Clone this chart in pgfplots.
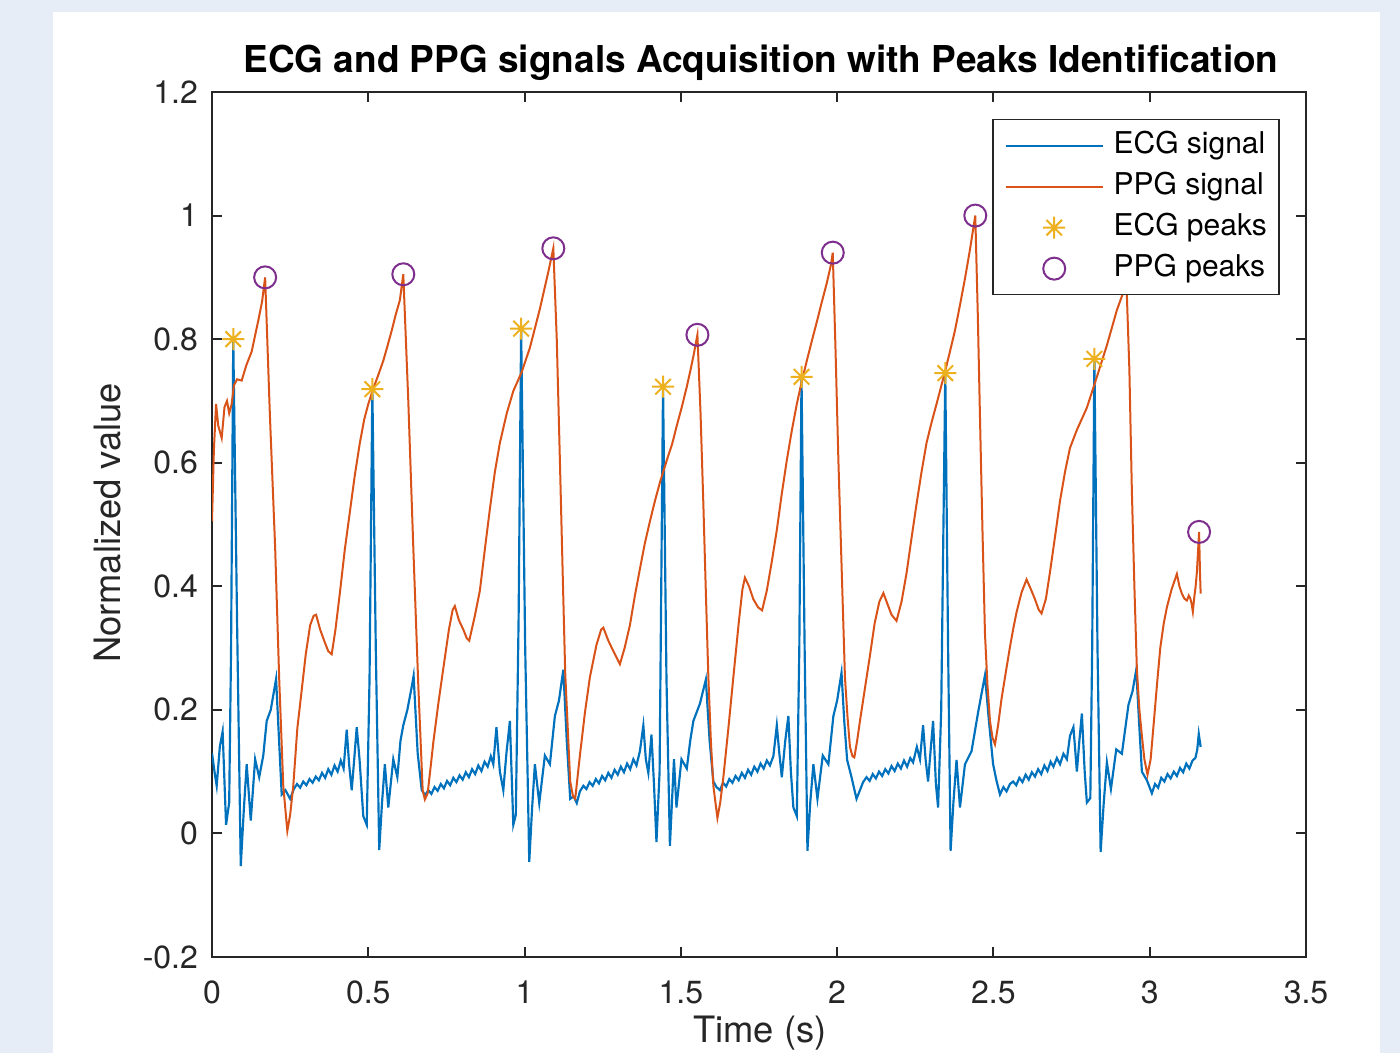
\documentclass[border=0pt]{standalone}
\usepackage{fontspec}
\setmainfont{TeX Gyre Heros}
\usepackage{pgfplots}
\pgfplotsset{compat=1.18}

\definecolor{bgblue}{RGB}{230,237,247}
\definecolor{axgray}{RGB}{38,38,38}
\definecolor{ecgblue}{RGB}{0,114,189}
\definecolor{ppgorange}{RGB}{217,83,25}
\definecolor{pkyellow}{RGB}{237,177,32}
\definecolor{pkpurple}{RGB}{126,47,142}

% matlab-like '*' marker (plus and cross)
\pgfdeclareplotmark{mstar}{%
  \pgfpathmoveto{\pgfqpoint{-\pgfplotmarksize}{0pt}}\pgfpathlineto{\pgfqpoint{\pgfplotmarksize}{0pt}}%
  \pgfpathmoveto{\pgfqpoint{0pt}{-\pgfplotmarksize}}\pgfpathlineto{\pgfqpoint{0pt}{\pgfplotmarksize}}%
  \pgfpathmoveto{\pgfqpoint{-0.707\pgfplotmarksize}{-0.707\pgfplotmarksize}}\pgfpathlineto{\pgfqpoint{0.707\pgfplotmarksize}{0.707\pgfplotmarksize}}%
  \pgfpathmoveto{\pgfqpoint{-0.707\pgfplotmarksize}{0.707\pgfplotmarksize}}\pgfpathlineto{\pgfqpoint{0.707\pgfplotmarksize}{-0.707\pgfplotmarksize}}%
  \pgfusepathqstroke}

\begin{document}
\begin{tikzpicture}[x=0.3pt,y=-0.3pt]
\useasboundingbox (0,0) rectangle (1400,1053);
\clip (0,0) rectangle (1400,1053);
\fill[bgblue] (0,0) rectangle (1400,1053);
\fill[white] (53,12) rectangle (1380,1053);
\coordinate (axsw) at (212,957);

\begin{axis}[
    at={(axsw)}, anchor=south west,
    scale only axis,
    width=328.2pt, height=259.5pt,
    xmin=0, xmax=3.5, ymin=-0.2, ymax=1.2,
    xtick={0,0.5,1,1.5,2,2.5,3,3.5},
    ytick={-0.2,0,0.2,0.4,0.6,0.8,1,1.2},
    tick align=inside,
    major tick length=3pt,
    axis line style={axgray, line width=0.6pt},
    tick style={axgray, line width=0.6pt},
    /pgf/number format/assume math mode=true,
    tick label style={font=\fontsize{9.6}{11}\selectfont, text=axgray},
    xticklabel style={anchor=base, yshift=-14.1pt},
    yticklabel style={xshift=-0.7pt},
    legend style={
        at={(0.976,0.969)}, anchor=north east,
        draw=axgray, line width=0.5pt,
        font=\fontsize{9}{10}\selectfont,
        inner xsep=3.6pt, inner ysep=3.3pt,
        row sep=3.3pt, column sep=3pt,
        nodes={inner sep=0pt, text height=7pt, text depth=2pt},
        cells={anchor=west},
    },
]
\addplot[ecgblue, line width=0.65pt, no marks,
    legend image code/.code={\draw[ecgblue, line width=0.65pt] (0pt,0pt) -- (29pt,0pt);}]
coordinates {
(0.000,0.130) (0.008,0.100) (0.015,0.077) (0.025,0.140) (0.034,0.165) (0.045,0.014)
(0.055,0.050) (0.061,0.300) (0.068,0.800) (0.080,0.350) (0.092,-0.053) (0.102,0.040)
(0.111,0.112) (0.124,0.021) (0.138,0.120) (0.151,0.091) (0.164,0.126) (0.175,0.182)
(0.188,0.200) (0.205,0.250) (0.223,0.063) (0.235,0.070) (0.250,0.056)
(0.262,0.072) (0.272,0.080) (0.282,0.074) (0.292,0.084) (0.302,0.078) (0.312,0.088)
(0.322,0.082) (0.332,0.092) (0.342,0.086) (0.352,0.098) (0.362,0.090) (0.372,0.104)
(0.382,0.095) (0.392,0.110) (0.402,0.100) (0.412,0.118) (0.421,0.105) (0.431,0.168)
(0.439,0.110) (0.447,0.070) (0.455,0.120) (0.463,0.172) (0.472,0.120) (0.484,0.028)
(0.495,0.014) (0.504,0.250) (0.513,0.719) (0.524,0.300) (0.535,-0.027) (0.544,0.050)
(0.553,0.112) (0.564,0.042) (0.580,0.120) (0.593,0.091) (0.603,0.150) (0.612,0.175)
(0.625,0.200) (0.640,0.240) (0.645,0.255) (0.658,0.130) (0.671,0.070) (0.682,0.062)
(0.692,0.070) (0.702,0.064) (0.712,0.075) (0.722,0.069) (0.732,0.080) (0.742,0.073)
(0.752,0.085) (0.762,0.078) (0.772,0.090) (0.782,0.083) (0.792,0.094) (0.802,0.087)
(0.812,0.099) (0.822,0.091) (0.832,0.104) (0.842,0.096) (0.852,0.110) (0.862,0.101)
(0.872,0.116) (0.882,0.108) (0.892,0.125) (0.900,0.112) (0.910,0.172) (0.921,0.100)
(0.932,0.070) (0.942,0.130) (0.953,0.182) (0.964,0.014) (0.972,0.030) (0.981,0.350)
(0.989,0.817) (1.002,0.300) (1.015,-0.046) (1.024,0.040) (1.033,0.112) (1.047,0.049)
(1.065,0.126) (1.081,0.112) (1.097,0.190) (1.110,0.215) (1.124,0.265) (1.135,0.150)
(1.146,0.056) (1.157,0.060) (1.167,0.049) (1.177,0.068) (1.188,0.077)
(1.198,0.072) (1.208,0.083) (1.218,0.077) (1.228,0.088) (1.238,0.081) (1.248,0.093)
(1.258,0.086) (1.268,0.098) (1.278,0.090) (1.288,0.103) (1.298,0.095) (1.308,0.108)
(1.318,0.099) (1.328,0.113) (1.338,0.104) (1.348,0.120) (1.358,0.110) (1.369,0.133)
(1.380,0.175) (1.388,0.120) (1.396,0.098) (1.406,0.160) (1.414,0.080) (1.422,-0.014)
(1.432,0.100) (1.443,0.723) (1.454,0.250) (1.465,-0.020) (1.478,0.120) (1.486,0.042)
(1.502,0.120) (1.519,0.105) (1.530,0.150) (1.540,0.182) (1.561,0.210) (1.580,0.249)
(1.592,0.150) (1.604,0.084) (1.614,0.075) (1.625,0.070)
(1.635,0.082) (1.645,0.076) (1.655,0.088) (1.665,0.082) (1.675,0.093) (1.685,0.086)
(1.695,0.098) (1.705,0.090) (1.715,0.103) (1.725,0.095) (1.735,0.108) (1.745,0.100)
(1.755,0.113) (1.765,0.105) (1.775,0.118) (1.785,0.110) (1.796,0.125) (1.807,0.175)
(1.815,0.130) (1.823,0.091) (1.834,0.150) (1.844,0.190) (1.852,0.100) (1.860,0.042)
(1.871,0.028) (1.879,0.300) (1.886,0.739) (1.896,0.300) (1.905,-0.028) (1.914,0.050)
(1.924,0.112) (1.937,0.056) (1.954,0.126) (1.972,0.112) (1.988,0.190) (2.000,0.215)
(2.014,0.260) (2.023,0.180) (2.032,0.119) (2.046,0.091) (2.062,0.056) (2.073,0.070)
(2.083,0.083) (2.094,0.091)
(2.104,0.085) (2.114,0.096) (2.124,0.089) (2.134,0.100) (2.144,0.093) (2.154,0.104)
(2.164,0.097) (2.174,0.109) (2.184,0.101) (2.194,0.113) (2.204,0.105) (2.214,0.118)
(2.224,0.108) (2.234,0.122) (2.243,0.115) (2.255,0.140) (2.265,0.120) (2.275,0.175)
(2.283,0.120) (2.291,0.084) (2.300,0.140) (2.307,0.182) (2.316,0.080) (2.323,0.042)
(2.333,0.200) (2.346,0.745) (2.355,0.300) (2.363,-0.028) (2.372,0.050) (2.382,0.119)
(2.393,0.042) (2.409,0.112) (2.430,0.133) (2.451,0.196) (2.473,0.256) (2.486,0.180)
(2.499,0.112) (2.510,0.085) (2.521,0.063) (2.532,0.075) (2.542,0.068) (2.553,0.080)
(2.563,0.084)
(2.573,0.078) (2.583,0.090) (2.593,0.083) (2.603,0.095) (2.613,0.087) (2.623,0.099)
(2.633,0.092) (2.643,0.104) (2.653,0.096) (2.663,0.110) (2.673,0.101) (2.683,0.116)
(2.692,0.108) (2.703,0.122) (2.713,0.112) (2.724,0.129) (2.735,0.120) (2.745,0.158)
(2.756,0.172) (2.767,0.100) (2.775,0.150) (2.783,0.194) (2.792,0.100) (2.799,0.050)
(2.810,0.057) (2.816,0.300) (2.823,0.768) (2.833,0.300) (2.843,-0.030) (2.853,0.050)
(2.863,0.115) (2.876,0.072) (2.893,0.136) (2.911,0.129) (2.932,0.208) (2.945,0.230)
(2.957,0.265) (2.966,0.180) (2.975,0.100) (2.991,0.086) (3.007,0.065)
(3.017,0.080) (3.027,0.074) (3.037,0.090) (3.047,0.084) (3.057,0.096) (3.067,0.089)
(3.077,0.100) (3.087,0.093) (3.097,0.106) (3.107,0.099) (3.117,0.113) (3.127,0.105)
(3.137,0.118) (3.146,0.122) (3.152,0.135) (3.157,0.161) (3.163,0.140)
};
\addlegendentry{ECG signal}

\addplot[ppgorange, line width=0.6pt, no marks,
    legend image code/.code={\draw[ppgorange, line width=0.6pt] (0pt,0pt) -- (29pt,0pt);}]
coordinates {
(0.000,0.505) (0.006,0.620) (0.013,0.695) (0.020,0.660) (0.031,0.640) (0.040,0.690)
(0.048,0.700) (0.055,0.680) (0.063,0.695) (0.070,0.725) (0.080,0.735) (0.095,0.733)
(0.110,0.758) (0.127,0.780) (0.148,0.830) (0.160,0.860) (0.170,0.900) (0.185,0.680)
(0.202,0.463) (0.215,0.250) (0.228,0.077) (0.241,0.004) (0.250,0.030) (0.260,0.077)
(0.273,0.170) (0.287,0.232) (0.300,0.290) (0.314,0.337) (0.325,0.352) (0.333,0.354)
(0.346,0.330) (0.361,0.309) (0.372,0.295) (0.383,0.290) (0.395,0.330) (0.410,0.393)
(0.425,0.460) (0.441,0.520) (0.457,0.580) (0.473,0.632) (0.487,0.670) (0.500,0.695)
(0.516,0.720) (0.532,0.742) (0.548,0.765) (0.562,0.790) (0.575,0.814) (0.588,0.840)
(0.601,0.863) (0.612,0.905) (0.628,0.700) (0.644,0.463) (0.660,0.240) (0.674,0.070)
(0.681,0.055) (0.690,0.065) (0.700,0.110) (0.708,0.147) (0.724,0.210) (0.740,0.267)
(0.758,0.330) (0.770,0.362) (0.777,0.368) (0.790,0.345) (0.804,0.330) (0.815,0.316)
(0.823,0.312) (0.840,0.350) (0.857,0.393) (0.873,0.460) (0.889,0.525) (0.905,0.585)
(0.921,0.632) (0.943,0.680) (0.964,0.716) (0.991,0.747) (1.017,0.786) (1.049,0.849)
(1.076,0.909) (1.092,0.947) (1.103,0.800) (1.113,0.604) (1.122,0.420) (1.130,0.260)
(1.146,0.084) (1.155,0.060) (1.162,0.056) (1.177,0.126) (1.193,0.195) (1.209,0.253)
(1.230,0.305) (1.245,0.330) (1.252,0.333) (1.268,0.312) (1.284,0.295) (1.305,0.274)
(1.320,0.300) (1.337,0.337) (1.353,0.385) (1.369,0.428) (1.385,0.470) (1.401,0.505)
(1.417,0.538) (1.433,0.568) (1.455,0.604) (1.472,0.630) (1.487,0.660) (1.503,0.690)
(1.519,0.723) (1.530,0.748) (1.540,0.772) (1.553,0.807) (1.563,0.680) (1.572,0.533)
(1.580,0.390) (1.588,0.253) (1.596,0.150) (1.604,0.077) (1.617,0.025) (1.626,0.050)
(1.636,0.091) (1.652,0.170) (1.668,0.253) (1.685,0.340) (1.697,0.395) (1.705,0.414)
(1.718,0.400) (1.732,0.379) (1.747,0.366) (1.760,0.361) (1.775,0.393) (1.791,0.440)
(1.807,0.491) (1.823,0.550) (1.839,0.604) (1.855,0.652) (1.871,0.695) (1.887,0.732)
(1.903,0.765) (1.919,0.797) (1.935,0.828) (1.951,0.860) (1.967,0.891) (1.980,0.920)
(1.986,0.940) (1.995,0.780) (2.004,0.604) (2.015,0.420) (2.025,0.253) (2.033,0.190)
(2.041,0.140) (2.049,0.125) (2.055,0.123) (2.064,0.150) (2.073,0.182) (2.089,0.235)
(2.105,0.288) (2.120,0.340) (2.135,0.375) (2.148,0.389) (2.162,0.370) (2.174,0.354)
(2.190,0.344) (2.206,0.375) (2.222,0.421) (2.238,0.478) (2.254,0.533) (2.270,0.585)
(2.286,0.632) (2.302,0.665) (2.318,0.695) (2.332,0.722) (2.345,0.747) (2.361,0.780)
(2.377,0.814) (2.393,0.855) (2.409,0.898) (2.425,0.945) (2.442,1.000) (2.450,0.840)
(2.457,0.674) (2.465,0.490) (2.473,0.323) (2.481,0.240) (2.489,0.182) (2.497,0.155)
(2.505,0.144) (2.515,0.175) (2.526,0.218) (2.540,0.262) (2.553,0.302) (2.563,0.330)
(2.574,0.358) (2.590,0.390) (2.606,0.411) (2.620,0.395) (2.633,0.379) (2.645,0.362)
(2.654,0.356) (2.668,0.380) (2.681,0.423) (2.697,0.480) (2.713,0.538) (2.729,0.585)
(2.745,0.624) (2.767,0.653) (2.799,0.689) (2.831,0.739) (2.863,0.790) (2.895,0.847)
(2.915,0.875) (2.925,0.900) (2.935,0.750) (2.943,0.553) (2.951,0.400) (2.959,0.265)
(2.967,0.200) (2.975,0.158) (2.983,0.120) (2.993,0.095) (3.003,0.120) (3.013,0.179)
(3.024,0.245) (3.034,0.301) (3.045,0.340) (3.055,0.366) (3.070,0.395) (3.087,0.420)
(3.095,0.400) (3.103,0.388) (3.111,0.380) (3.119,0.377) (3.125,0.385) (3.130,0.380)
(3.134,0.372) (3.138,0.359) (3.143,0.384) (3.147,0.400) (3.151,0.423) (3.158,0.488)
(3.161,0.420) (3.163,0.388)
};
\addlegendentry{PPG signal}

\addplot[only marks, mark=mstar, mark size=3.3pt, pkyellow, line width=0.6pt,
    legend image code/.code={\draw[pkyellow, line width=0.6pt] plot[mark=mstar, mark size=3.3pt] coordinates {(14.5pt,0pt)};}]
coordinates {
(0.068,0.800) (0.513,0.719) (0.989,0.817) (1.443,0.723)
(1.886,0.739) (2.346,0.745) (2.823,0.768)
};
\addlegendentry{ECG peaks}

\addplot[only marks, mark=o, mark size=3.3pt, pkpurple, line width=0.6pt,
    legend image code/.code={\draw[pkpurple, line width=0.6pt] plot[mark=o, mark size=3.3pt] coordinates {(14.5pt,0pt)};}]
coordinates {
(0.170,0.900) (0.612,0.905) (1.092,0.947) (1.553,0.807)
(1.986,0.940) (2.442,1.000) (2.925,0.900) (3.158,0.488)
};
\addlegendentry{PPG peaks}
\end{axis}

\node[font=\bfseries\fontsize{11.1}{13}\selectfont, anchor=base, text=black] at (761,73)
  {ECG and PPG signals Acquisition with Peaks Identification};
\node[font=\fontsize{10.9}{12}\selectfont, rotate=90, text=axgray] at (108,523) {Normalized value};
\node[font=\fontsize{10.9}{12}\selectfont, anchor=base, text=axgray] at (760,1043) {Time (s)};
\end{tikzpicture}
\end{document}
